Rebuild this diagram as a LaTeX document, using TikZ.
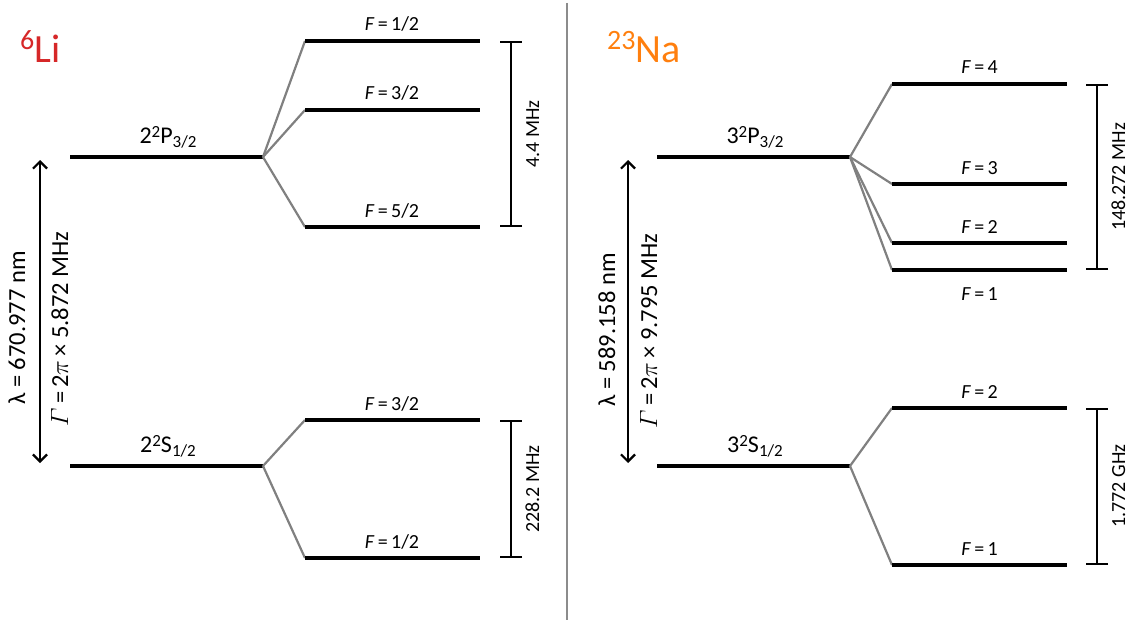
\documentclass[tikz,border=0pt]{standalone}
\usepackage{fontspec}
\setmainfont{Carlito}
\usetikzlibrary{arrows.meta}
\definecolor{lired}{HTML}{D62728}
\definecolor{naorange}{HTML}{FF7F0E}
\definecolor{splitgray}{HTML}{808080}
\definecolor{divgray}{HTML}{8C8C8C}
\tikzset{
  levelline/.style={line width=4.5pt},
  splitline/.style={line width=2.2pt, draw=splitgray},
  bracketline/.style={line width=2.2pt, {Bar[width=22pt]}-{Bar[width=22pt]}},
  flabel/.style={font=\fontsize{20}{24}\selectfont, anchor=base, inner sep=0pt},
  llabel/.style={font=\fontsize{24}{28}\selectfont, anchor=base, inner sep=0pt},
  blabel/.style={font=\fontsize{20}{24}\selectfont, anchor=base, rotate=90, inner sep=0pt},
  tlabel/.style={font=\fontsize{24.5}{28}\selectfont, anchor=base, rotate=90, inner sep=0pt},
  titlelabel/.style={font=\fontsize{40}{44}\selectfont, anchor=base west, inner sep=0pt},
  transarrow/.style={line width=2.2pt, {Straight Barb[length=7pt,width=14pt]}-{Straight Barb[length=7pt,width=14pt]}},
}
\newcommand{\Fl}[1]{\textit{F}\,=\,#1}
\newcommand{\lvsup}[1]{\raisebox{6pt}{\fontsize{17}{17}\selectfont #1}}
\newcommand{\lvsub}[1]{\raisebox{-4pt}{\fontsize{17}{17}\selectfont #1}}
\newcommand{\ttsup}[1]{\raisebox{13pt}{\fontsize{28}{28}\selectfont #1}}
\newcommand{\Gm}{$\mathnormal{\Gamma}$}
\begin{document}
\begin{tikzpicture}[x=1pt,y=-1pt]
\useasboundingbox (0,0) rectangle (1137,623);

% divider
\coordinate (divtop) at (567,3);
\coordinate (divbot) at (567,620);
\draw[line width=2.6pt, divgray] (divtop) -- (divbot);

%================ 6Li ================
\node[titlelabel, text=lired] (lititle) at (20,63) {\ttsup{6}Li};

% fine-structure levels
\coordinate (liPl) at (70,157);  \coordinate (liPr) at (263,157);
\coordinate (liSl) at (70,466);  \coordinate (liSr) at (263,466);
\draw[levelline] (liPl) -- (liPr);
\draw[levelline] (liSl) -- (liSr);
\node[llabel] (liPlab) at (168,143) {2\lvsup{2}P\lvsub{3/2}};
\node[llabel] (liSlab) at (168,452) {2\lvsup{2}S\lvsub{1/2}};

% hyperfine levels P
\coordinate (liPa) at (305,41);  \coordinate (liPae) at (480,41);
\coordinate (liPb) at (305,110); \coordinate (liPbe) at (480,110);
\coordinate (liPc) at (305,227); \coordinate (liPce) at (480,227);
\draw[splitline] (liPr) -- (liPa);
\draw[splitline] (liPr) -- (liPb);
\draw[splitline] (liPr) -- (liPc);
\draw[levelline] (liPa) -- (liPae);
\draw[levelline] (liPb) -- (liPbe);
\draw[levelline] (liPc) -- (liPce);
\node[flabel] (liPalab) at (392,31) {\Fl{1/2}};
\node[flabel] (liPblab) at (392,100) {\Fl{3/2}};
\node[flabel] (liPclab) at (392,217) {\Fl{5/2}};

% hyperfine levels S
\coordinate (liSa) at (305,420); \coordinate (liSae) at (480,420);
\coordinate (liSb) at (305,558); \coordinate (liSbe) at (480,558);
\draw[splitline] (liSr) -- (liSa);
\draw[splitline] (liSr) -- (liSb);
\draw[levelline] (liSa) -- (liSae);
\draw[levelline] (liSb) -- (liSbe);
\node[flabel] (liSalab) at (392,410) {\Fl{3/2}};
\node[flabel] (liSblab) at (392,548) {\Fl{1/2}};

% brackets
\coordinate (liBPt) at (511,41);  \coordinate (liBPb) at (511,227);
\coordinate (liBSt) at (511,420); \coordinate (liBSb) at (511,558);
\draw[bracketline] (liBPt) -- (liBPb);
\draw[bracketline] (liBSt) -- (liBSb);
\node[blabel] (liBPlab) at (539,134) {4.4 MHz};
\node[blabel] (liBSlab) at (539,489) {228.2 MHz};

% transition
\coordinate (liTt) at (40,160); \coordinate (liTb) at (40,463);
\draw[transarrow] (liTt) -- (liTb);
\node[tlabel] (lilambda) at (25,328) {λ = 670.977 nm};
\node[tlabel] (ligamma) at (68,329) {\Gm\,=\,2$\pi$\,× 5.872 MHz};

%================ 23Na ================
\node[titlelabel, text=naorange] (natitle) at (607,63) {\ttsup{23}Na};

\coordinate (naPl) at (657,157);  \coordinate (naPr) at (850,157);
\coordinate (naSl) at (657,466);  \coordinate (naSr) at (850,466);
\draw[levelline] (naPl) -- (naPr);
\draw[levelline] (naSl) -- (naSr);
\node[llabel] (naPlab) at (755,143) {3\lvsup{2}P\lvsub{3/2}};
\node[llabel] (naSlab) at (755,452) {3\lvsup{2}S\lvsub{1/2}};

% hyperfine levels P
\coordinate (naPa) at (892,84);  \coordinate (naPae) at (1067,84);
\coordinate (naPb) at (892,184); \coordinate (naPbe) at (1067,184);
\coordinate (naPc) at (892,243); \coordinate (naPce) at (1067,243);
\coordinate (naPd) at (892,270); \coordinate (naPde) at (1067,270);
\draw[splitline] (naPr) -- (naPa);
\draw[splitline] (naPr) -- (naPb);
\draw[splitline] (naPr) -- (naPc);
\draw[splitline] (naPr) -- (naPd);
\draw[levelline] (naPa) -- (naPae);
\draw[levelline] (naPb) -- (naPbe);
\draw[levelline] (naPc) -- (naPce);
\draw[levelline] (naPd) -- (naPde);
\node[flabel] (naPalab) at (979.5,74) {\Fl{4}};
\node[flabel] (naPblab) at (979.5,174) {\Fl{3}};
\node[flabel] (naPclab) at (979.5,233) {\Fl{2}};
\node[flabel] (naPdlab) at (979.5,300) {\Fl{1}};

% hyperfine levels S
\coordinate (naSa) at (892,408); \coordinate (naSae) at (1067,408);
\coordinate (naSb) at (892,565); \coordinate (naSbe) at (1067,565);
\draw[splitline] (naSr) -- (naSa);
\draw[splitline] (naSr) -- (naSb);
\draw[levelline] (naSa) -- (naSae);
\draw[levelline] (naSb) -- (naSbe);
\node[flabel] (naSalab) at (979.5,398) {\Fl{2}};
\node[flabel] (naSblab) at (979.5,555) {\Fl{1}};

% brackets
\coordinate (naBPt) at (1097,84);  \coordinate (naBPb) at (1097,270);
\coordinate (naBSt) at (1097,408); \coordinate (naBSb) at (1097,565);
\draw[bracketline] (naBPt) -- (naBPb);
\draw[bracketline] (naBSt) -- (naBSb);
\node[blabel] (naBPlab) at (1125,177) {148.272 MHz};
\node[blabel] (naBSlab) at (1125,486) {1.772 GHz};

% transition
\coordinate (naTt) at (628,160); \coordinate (naTb) at (628,463);
\draw[transarrow] (naTt) -- (naTb);
\node[tlabel] (nalambda) at (615,330) {λ = 589.158 nm};
\node[tlabel] (nagamma) at (657,331) {\Gm\,=\,2$\pi$\,× 9.795 MHz};
\end{tikzpicture}
\end{document}
